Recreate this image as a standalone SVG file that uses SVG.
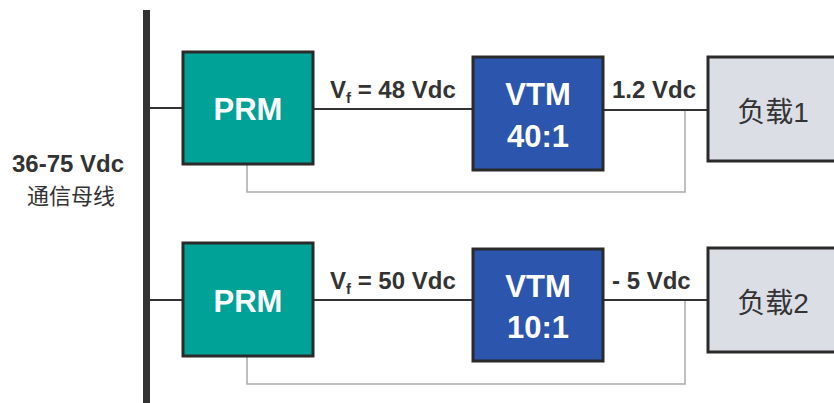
<svg xmlns="http://www.w3.org/2000/svg" width="834" height="403" viewBox="0 0 834 403">
<style>
.prm{fill:#00a298;stroke:#2a2a2a;stroke-width:3}
.vtm{fill:#2c55ae;stroke:#2a2a2a;stroke-width:3}
.load{fill:#dcdee6;stroke:#2a2a2a;stroke-width:3}
.wt{fill:#ffffff;font-family:"Liberation Sans",Arial,sans-serif;font-weight:bold;font-size:31px;text-anchor:middle}
.lbl{fill:#333333;font-family:"Liberation Sans",Arial,sans-serif;font-weight:bold;font-size:24px}
.cjk{fill:#333333;font-family:"Liberation Sans","Noto Sans CJK SC",sans-serif;font-size:28px;text-anchor:middle}
.wire{stroke:#333333;stroke-width:2;fill:none}
.fb{stroke:#aaaaaa;stroke-width:1.5;fill:none}
</style>
<rect width="834" height="403" fill="#ffffff"/>
<g id="bus">
<rect x="143" y="10" width="7" height="393" fill="#333333"/>
<text class="lbl" x="68" y="172" text-anchor="middle">36-75 Vdc</text>
<text x="71" y="204" text-anchor="middle" style="fill:#333333;font-family:'Noto Sans CJK SC',sans-serif;font-size:22px">通信母线</text>
</g>
<g id="connectors">
<line class="wire" x1="150" y1="108" x2="183" y2="108"/>
<line class="wire" x1="313" y1="109" x2="473" y2="109"/>
<line class="wire" x1="603" y1="110" x2="708" y2="110"/>
<path class="fb" d="M247,165 V192 H685 V111"/>
<line class="wire" x1="150" y1="300" x2="183" y2="300"/>
<line class="wire" x1="313" y1="300" x2="473" y2="300"/>
<line class="wire" x1="603" y1="300" x2="708" y2="300"/>
<path class="fb" d="M247,357 V384 H685 V301"/>
<text class="lbl" x="330" y="98">V<tspan font-size="15" dy="5">f</tspan><tspan dy="-5"> = 48 Vdc</tspan></text>
<text class="lbl" x="612" y="98">1.2 Vdc</text>
<text class="lbl" x="330" y="289">V<tspan font-size="15" dy="5">f</tspan><tspan dy="-5"> = 50 Vdc</tspan></text>
<text class="lbl" x="612" y="289">- 5 Vdc</text>
</g>
<g id="prm1">
<rect class="prm" x="183" y="52" width="130" height="112"/>
<text class="wt" x="248" y="120">PRM</text>
</g>
<g id="vtm1">
<rect class="vtm" x="473" y="57" width="130" height="113"/>
<text class="wt" x="538" y="105">VTM</text>
<text class="wt" x="538" y="147">40:1</text>
</g>
<g id="load1">
<rect class="load" x="708" y="57" width="140" height="104"/>
<text class="cjk" x="773" y="122">负载1</text>
</g>
<g id="prm2">
<rect class="prm" x="183" y="243" width="130" height="113"/>
<text class="wt" x="248" y="312">PRM</text>
</g>
<g id="vtm2">
<rect class="vtm" x="473" y="249" width="130" height="112"/>
<text class="wt" x="538" y="297">VTM</text>
<text class="wt" x="538" y="338">10:1</text>
</g>
<g id="load2">
<rect class="load" x="708" y="248" width="140" height="104"/>
<text class="cjk" x="773" y="313">负载2</text>
</g>
</svg>
